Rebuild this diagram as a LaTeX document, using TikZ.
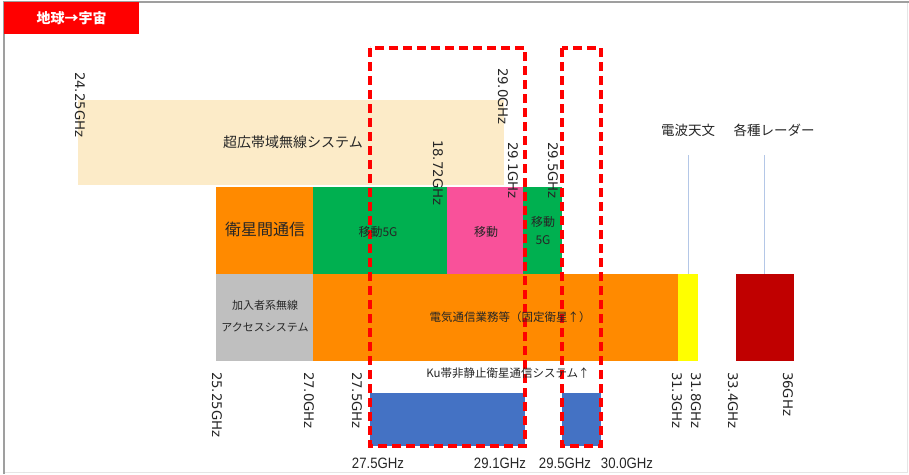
\documentclass[tikz,border=0pt]{standalone}
\usepackage{fontspec}
\setmainfont{Noto Sans CJK JP}
\newfontfamily\ghzfont{DejaVu Sans}
\newfontfamily\narrowfont[FakeStretch=0.88]{Liberation Sans}
\definecolor{beige}{HTML}{FCEBC8}
\definecolor{orng}{HTML}{FF8A00}
\definecolor{grn}{HTML}{00B050}
\definecolor{pnk}{HTML}{F9519A}
\definecolor{gry}{HTML}{BFBFBF}
\definecolor{yel}{HTML}{FFFF00}
\definecolor{dred}{HTML}{C00000}
\definecolor{blu}{HTML}{4472C4}
\definecolor{tagred}{HTML}{FF0000}
\definecolor{textc}{HTML}{262626}
\definecolor{thinc}{HTML}{B4C7E7}
\tikzset{
  band/.style={draw=none, inner sep=0pt, outer sep=0pt, anchor=north west},
  txt/.style={inner sep=0pt, outer sep=0pt, text=textc},
  rot/.style={inner sep=0pt, outer sep=0pt, rotate=-90, anchor=west, text=textc,
              font=\ghzfont\fontsize{13.3}{14}\selectfont},
  bot/.style={inner sep=0pt, outer sep=0pt, text=textc,
              font=\narrowfont\fontsize{15}{16}\selectfont},
  reddash/.style={draw=red, line width=3.2pt, dash pattern=on 9pt off 5pt},
  thinline/.style={draw=thinc, line width=1pt},
}
\begin{document}
\begin{tikzpicture}[x=1pt,y=-1pt]
\useasboundingbox (0,0) rectangle (909,474);
\fill[white] (0,0) rectangle (909,474);
% frame
\draw[gray!20, line width=1pt] (907,2) -- (907,472) -- (4,472);
\draw[gray!75, line width=1.2pt] (4,474) -- (4,2) -- (909,2);
% tag
\node[band, fill=tagred, minimum width=135pt, minimum height=32pt, text=white,
      font=\bfseries\fontsize{14}{15}\selectfont, anchor=north west] (tag) at (4,2) {地球→宇宙};
% bands
\node[band, fill=beige, minimum width=426pt, minimum height=85pt] (uwb) at (78,100) {};
\node[band, fill=orng, minimum width=97pt, minimum height=87pt] (isl) at (216,187) {};
\node[band, fill=grn, minimum width=134pt, minimum height=87pt] (g1) at (313,187) {};
\node[band, fill=pnk, minimum width=76pt, minimum height=87pt] (pk) at (447,187) {};
\node[band, fill=grn, minimum width=39pt, minimum height=87pt] (g2) at (523,187) {};
\node[band, fill=gry, minimum width=97pt, minimum height=87pt] (acc) at (216,274) {};
\node[band, fill=orng, minimum width=365pt, minimum height=87pt] (fss) at (313,274) {};
\node[band, fill=yel, minimum width=20pt, minimum height=87pt] (ra) at (678,274) {};
\node[band, fill=dred, minimum width=58pt, minimum height=87pt] (rad) at (736,274) {};
\node[band, fill=blu, minimum width=155pt, minimum height=53pt] (ku1) at (370,393) {};
\node[band, fill=blu, minimum width=39pt, minimum height=53pt] (ku2) at (562,393) {};
% dashed boxes
\coordinate (box1a) at (370,48);
\coordinate (box1b) at (525,446);
\coordinate (box2a) at (562,48);
\coordinate (box2b) at (601,446);
\draw[reddash] (box1a) rectangle (box1b);
\draw[reddash] (box2a) rectangle (box2b);
% labels with lines
\node[txt, font=\fontsize{13.5}{14}\selectfont] (lblra) at (688,130) {電波天文};
\node[txt, font=\fontsize{13.5}{14}\selectfont] (lblrad) at (774,130) {各種レーダー};
\coordinate (ratop) at (688,155);
\coordinate (radtop) at (764,155);
\draw[thinline] (ratop) -- (ra.north);
\draw[thinline] (radtop) -- (radtop |- rad.north);
% texts
\node[txt, font=\fontsize{14}{15}\selectfont] (uwbt) at (293,142) {超広帯域無線システム};
\node[txt, font=\fontsize{16}{17}\selectfont] (islt) at (265,229) {衛星間通信};
\node[txt, font=\fontsize{12}{13}\selectfont] (g1t) at (378,232) {移動5G};
\node[txt, font=\fontsize{12}{13}\selectfont] (pkt) at (486,232) {移動};
\node[txt, font=\fontsize{12}{18}\selectfont, align=center] (g2t) at (543,231) {移動\\5G};
\node[txt, font=\fontsize{11}{22}\selectfont, align=center] (acct) at (265,316) {加入者系無線\\アクセスシステム};
\node[txt, font=\fontsize{11.5}{12}\selectfont] (fsst) at (510,317) {電気通信業務等（固定衛星↑）};
\node[txt, font=\fontsize{11.5}{12}\selectfont] (kut) at (508,373) {Ku帯非静止衛星通信システム↑};
% rotated frequency labels
\node[rot] (f2425) at (80,72) {24.25GHz};
\node[rot] (f290) at (503,68) {29.0GHz};
\node[rot] (f1872) at (438,140) {18.72GHz};
\node[rot] (f291) at (513,142) {29.1GHz};
\node[rot] (f295) at (553,142) {29.5GHz};
\node[rot] (f2525) at (217,372) {25.25GHz};
\node[rot] (f270) at (309,372) {27.0GHz};
\node[rot] (f275) at (357,372) {27.5GHz};
\node[rot] (f313) at (677,372) {31.3GHz};
\node[rot] (f318) at (696,372) {31.8GHz};
\node[rot] (f334) at (733,372) {33.4GHz};
\node[rot] (f36) at (788,372) {36GHz};
% bottom labels
\node[bot] (b275) at (378,463) {27.5GHz};
\node[bot] (b291) at (500,463) {29.1GHz};
\node[bot] (b295) at (565,463) {29.5GHz};
\node[bot] (b300) at (627,463) {30.0GHz};
\end{tikzpicture}
\end{document}
